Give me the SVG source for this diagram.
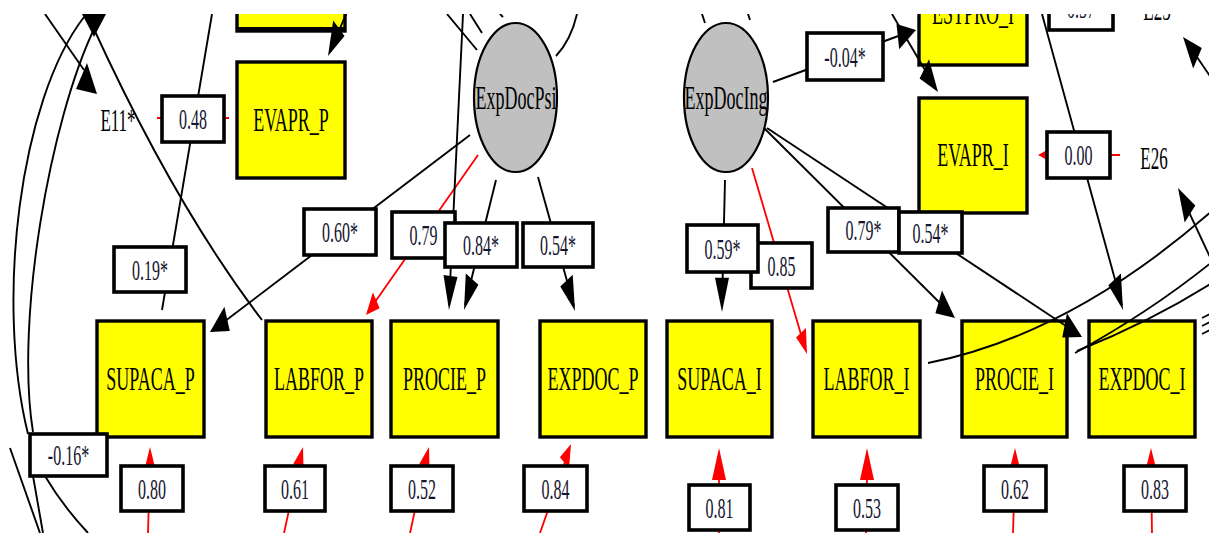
<svg xmlns="http://www.w3.org/2000/svg" width="1209" height="533" viewBox="0 0 1209 533">
<defs>
<clipPath id="clip"><rect x="0" y="14" width="1209" height="519"/></clipPath>
<style>
.yb{fill:#ffff00;stroke:#000;stroke-width:3.4}
.lb{fill:#fff;stroke:#000;stroke-width:3.6}
.el{fill:#c0c0c0;stroke:#000;stroke-width:2.2}
.ln{fill:none;stroke:#000;stroke-width:1.9}
.rl{fill:none;stroke:#ff0000;stroke-width:1.8}
.ah{fill:#000}
.rh{fill:#ff0000}
.t{font-family:"Liberation Serif","Times New Roman",serif;text-anchor:middle;fill:#000}
.n{font-size:16px;fill:#14142e}
.v{font-size:18px}
</style>
</defs>
<rect width="1209" height="533" fill="#fff"/>
<g clip-path="url(#clip)">
<g id="nodes">
<g id="ESTPRO_P"><rect class="yb" x="237" y="-10" width="108" height="41"/><rect x="237" y="27" width="108" height="5" fill="#000"/></g>
<g id="EVAPR_P"><rect class="yb" x="237" y="62" width="108" height="116"/><text class="t v" transform="translate(291,131) scale(1,1.85)">EVAPR_P</text></g>
<g id="SUPACA_P"><rect class="yb" x="97" y="321" width="107" height="116"/><text class="t v" transform="translate(150.5,390) scale(1,1.85)">SUPACA_P</text></g>
<g id="LABFOR_P"><rect class="yb" x="266" y="321" width="106" height="116"/><text class="t v" transform="translate(319,390) scale(1,1.85)">LABFOR_P</text></g>
<g id="PROCIE_P"><rect class="yb" x="391" y="321" width="107" height="116"/><text class="t v" transform="translate(444.5,390) scale(1,1.85)">PROCIE_P</text></g>
<g id="EXPDOC_P"><rect class="yb" x="540" y="321" width="106" height="116"/><text class="t v" transform="translate(593,390) scale(1,1.85)">EXPDOC_P</text></g>
<g id="SUPACA_I"><rect class="yb" x="667" y="321" width="105" height="116"/><text class="t v" transform="translate(719.5,390) scale(1,1.85)">SUPACA_I</text></g>
<g id="LABFOR_I"><rect class="yb" x="813" y="321" width="107" height="116"/><text class="t v" transform="translate(866.5,390) scale(1,1.85)">LABFOR_I</text></g>
<g id="PROCIE_I"><rect class="yb" x="962" y="321" width="105" height="116"/><text class="t v" transform="translate(1014.5,390) scale(1,1.85)">PROCIE_I</text></g>
<g id="EXPDOC_I"><rect class="yb" x="1089" y="321" width="106" height="116"/><text class="t v" transform="translate(1142,390) scale(1,1.85)">EXPDOC_I</text></g>
<g id="ESTPRO_I"><rect class="yb" x="919" y="-30" width="108" height="95"/><text class="t v" transform="translate(973,24) scale(1,1.85)">ESTPRO_I</text></g>
<g id="EVAPR_I"><rect class="yb" x="919" y="98" width="108" height="115"/><text class="t v" transform="translate(973,166) scale(1,1.85)">EVAPR_I</text></g>
<g id="ExpDocPsi"><ellipse class="el" cx="515.5" cy="97.5" rx="41.5" ry="74.5"/><text class="t v" transform="translate(516,109) scale(1,1.85)">ExpDocPsi</text></g>
<g id="ExpDocIng"><ellipse class="el" cx="726" cy="97.5" rx="42" ry="74.5"/><text class="t v" transform="translate(726,109) scale(1,1.85)">ExpDocIng</text></g>
<g id="E11"><text class="t" style="font-size:17px" transform="translate(118,131) scale(1,1.85)">E11*</text></g>
<g id="E25"><text class="t" style="font-size:17px" transform="translate(1157,20) scale(1,1.85)">E25</text></g>
<g id="E26"><text class="t" style="font-size:17px" transform="translate(1154,169) scale(1,1.85)">E26</text></g>
</g>
<g id="connectors">
<path class="ln" d="M470,135 L212,331"/><polygon class="ah" points="210,332 224.4,306.8 229.8,330.9"/>
<path class="rl" d="M478,155 L368,312"/><polygon class="rh" points="366,315 379.6,308.2 372.9,292.2"/>
<path class="ln" d="M463,14 L449,305"/><polygon class="ah" points="449,310 457.5,277 443.5,275"/>
<path class="ln" d="M496,180 L465,305"/><polygon class="ah" points="464,310 478.4,284.8 465.8,273.6"/>
<path class="ln" d="M538,177 L574,306"/><polygon class="ah" points="575,311 572.7,274.7 560.3,286.5"/>
<path class="ln" d="M725,180 L722,306"/><polygon class="ah" points="722,312 729,277.8 715,277.8"/>
<path class="rl" d="M752,168 L805,348"/><polygon class="rh" points="807,354 805.9,328 796.1,337.4"/>
<path class="ln" d="M773,82 L912,31"/><polygon class="ah" points="916,30 896.5,23.9 899.2,49.3"/>
<path class="ln" d="M892,14 L935,87"/><polygon class="ah" points="938,92 929,59.3 919.6,78.4"/>
<path class="ln" d="M764,128 L951,314"/><polygon class="ah" points="955,318 942,290.5 935.4,313.3"/>
<path class="ln" d="M767,128 L1078,334"/><polygon class="ah" points="1082,337 1067,313.2 1062.2,337.6"/>
<path class="ln" d="M1042,14 L1122,305"/><polygon class="ah" points="1123,310 1120.9,273.6 1108.4,285.3"/>
<path class="ln" d="M1212,79 L1186,41"/><polygon class="ah" points="1183,37 1193.2,68.4 1201.8,48"/>
<path class="ln" d="M1210,257 L1180,193"/><polygon class="ah" points="1178,188 1184.7,222.4 1195.3,205.6"/>
<path class="ln" d="M928,363 Q1070,335 1212,211"/>
<path class="ln" d="M1075,353 Q1150,312 1212,262"/>
<path class="ln" d="M1077,351 Q1150,322 1212,283"/>
<path class="ln" d="M1202,318 L1210,314 M1202,326 L1210,322 M1202,334 L1210,330"/>
<path class="ln" d="M212,14 L162,310"/>
<path class="ln" d="M93,27 Q175,206 262,320"/>
<path class="ln" d="M45,14 L84,70"/>
<polygon class="ah" points="87,63 76,89 97,94"/>
<polygon class="ah" points="82,14 106,14 94,37"/>
<path class="ln" d="M84,17 C20,100 -5,300 28,434"/>
<path class="ln" d="M95,27 C50,120 15,320 33,432"/>
<path class="ln" d="M10,448 Q25,490 40,533 M33,476 Q38,505 43,533 M45,476 Q62,505 88,533"/>
<path class="ln" d="M352,0 L330,52"/><polygon class="ah" points="328,56 344.5,35.9 333.2,20.6"/>
<path class="ln" d="M447,14 L477,50 M470,14 L482,33 M500,14 L503,17 M577,14 Q571,40 556,56"/>
<path class="ln" d="M702,14 L705,23 M748,14 L750,20"/>
<path class="rl" d="M157,118 L229,118"/>
<path class="rl" d="M1120,155 L1045,155"/><polygon class="rh" points="1038,155 1049,149 1049,161"/>
<path class="rl" d="M148,533 L150,460"/><polygon class="rh" points="150,447 144.5,469.2 155.5,469.2"/>
<path class="rl" d="M284,533 L300,460"/><polygon class="rh" points="303,447 293.4,463.7 303.6,471.4"/>
<path class="rl" d="M410,533 L426,460"/><polygon class="rh" points="429,447 419.4,463.7 429.6,471.4"/>
<path class="rl" d="M540,533 L567,456"/><polygon class="rh" points="571,444 559.9,457.2 569.1,468.2"/>
<path class="rl" d="M719,533 L719,478"/><polygon class="rh" points="719,448 726,480 712,480"/>
<path class="rl" d="M866,533 L867,478"/><polygon class="rh" points="867,448 874,480 860,480"/>
<path class="rl" d="M1013,533 L1015,462"/><polygon class="rh" points="1015,448 1020.5,470 1009.5,470"/>
<path class="rl" d="M1152,533 L1151,462"/><polygon class="rh" points="1151,448 1156.5,470 1145.5,470"/>
</g>
<g id="labels">
<rect class="lb" x="162" y="96" width="62" height="46"/><text class="t n" transform="translate(193,129) scale(1,1.85)">0.48</text>
<rect class="lb" x="114" y="247" width="72" height="45"/><text class="t n" transform="translate(150,279.5) scale(1,1.85)">0.19*</text>
<rect class="lb" x="304" y="209" width="72" height="46"/><text class="t n" transform="translate(340,242) scale(1,1.85)">0.60*</text>
<rect class="lb" x="392" y="212" width="63" height="46"/><text class="t n" transform="translate(423.5,245) scale(1,1.85)">0.79</text>
<rect class="lb" x="445" y="223" width="72" height="44"/><text class="t n" transform="translate(481,255) scale(1,1.85)">0.84*</text>
<rect class="lb" x="523" y="223" width="70" height="44"/><text class="t n" transform="translate(558,255) scale(1,1.85)">0.54*</text>
<rect class="lb" x="751" y="243" width="61" height="45"/><text class="t n" transform="translate(781.5,275.5) scale(1,1.85)">0.85</text>
<rect class="lb" x="687" y="225" width="71" height="47"/><text class="t n" transform="translate(722.5,258.5) scale(1,1.85)">0.59*</text>
<rect class="lb" x="828" y="208" width="71" height="44"/><text class="t n" transform="translate(863.5,240) scale(1,1.85)">0.79*</text>
<rect class="lb" x="899" y="212" width="63" height="41"/><text class="t n" transform="translate(930.5,242.5) scale(1,1.85)">0.54*</text>
<rect class="lb" x="807" y="33" width="76" height="47"/><text class="t n" transform="translate(845,66.5) scale(1,1.85)">-0.04*</text>
<rect class="lb" x="1047" y="132" width="63" height="46"/><text class="t n" transform="translate(1078.5,165) scale(1,1.85)">0.00</text>
<rect class="lb" x="1049" y="-20" width="64" height="50"/><text class="t n" transform="translate(1081,18) scale(1,1.85)">0.57</text>
<rect class="lb" x="30" y="434" width="77" height="42"/><text class="t n" transform="translate(68.5,465) scale(1,1.85)">-0.16*</text>
<rect class="lb" x="121" y="466" width="62" height="45"/><text class="t n" transform="translate(152,498.5) scale(1,1.85)">0.80</text>
<rect class="lb" x="265" y="466" width="60" height="45"/><text class="t n" transform="translate(295,498.5) scale(1,1.85)">0.61</text>
<rect class="lb" x="391" y="466" width="62" height="45"/><text class="t n" transform="translate(422,498.5) scale(1,1.85)">0.52</text>
<rect class="lb" x="524" y="466" width="63" height="45"/><text class="t n" transform="translate(555.5,498.5) scale(1,1.85)">0.84</text>
<rect class="lb" x="689" y="485" width="61" height="45"/><text class="t n" transform="translate(719.5,517.5) scale(1,1.85)">0.81</text>
<rect class="lb" x="836" y="485" width="62" height="45"/><text class="t n" transform="translate(867,517.5) scale(1,1.85)">0.53</text>
<rect class="lb" x="984" y="466" width="62" height="45"/><text class="t n" transform="translate(1015,498.5) scale(1,1.85)">0.62</text>
<rect class="lb" x="1124" y="466" width="62" height="45"/><text class="t n" transform="translate(1155,498.5) scale(1,1.85)">0.83</text>
</g>
</g>
</svg>
